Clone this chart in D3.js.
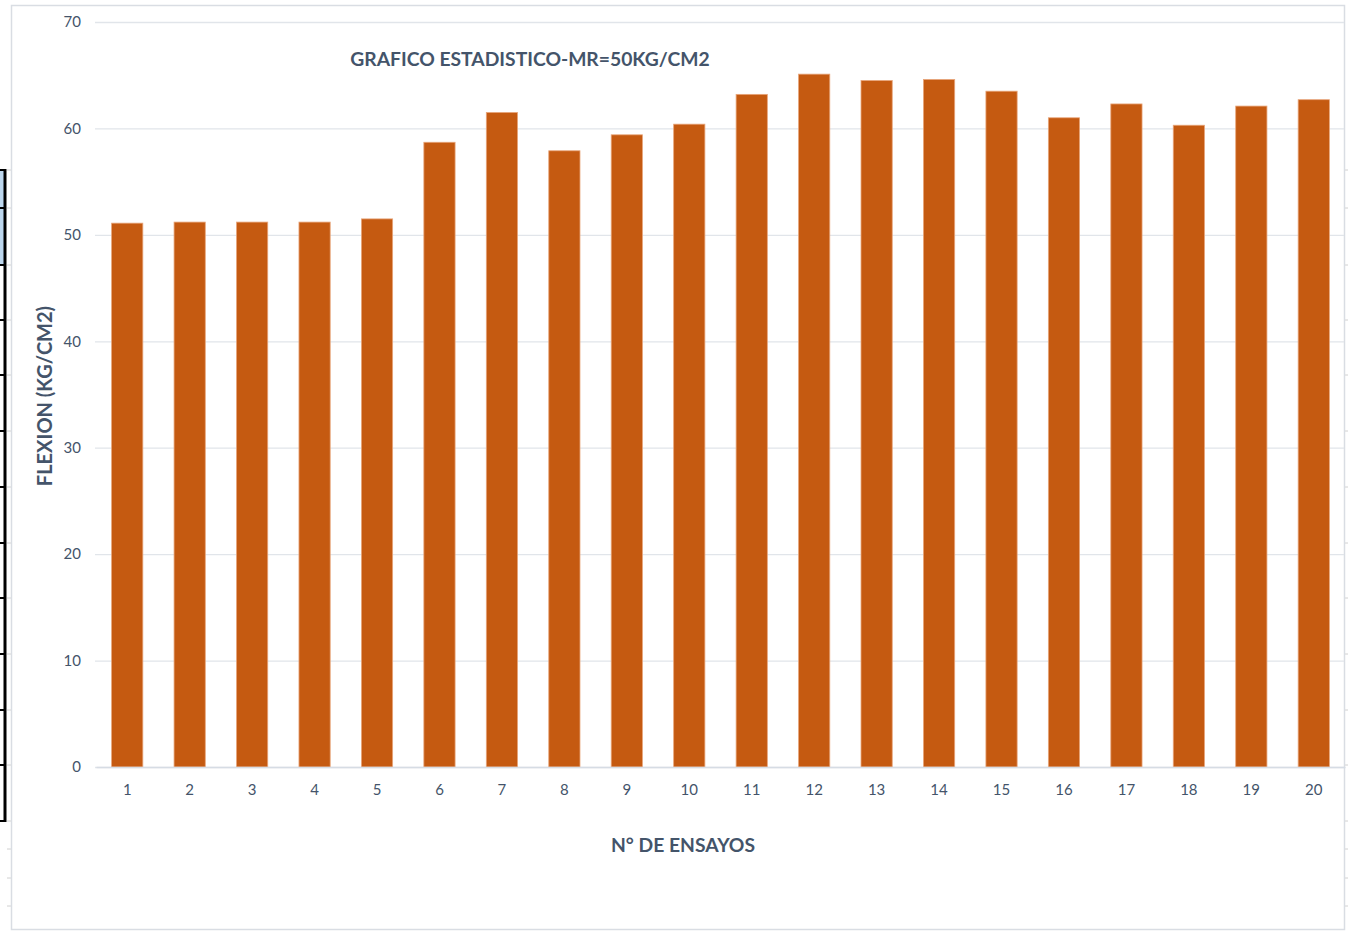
<!DOCTYPE html>
<html>
<head>
<meta charset="utf-8">
<script src="https://cdn.jsdelivr.net/npm/d3@7"></script>
<style>
  body { margin: 0; background: #fff; }
  svg { display: block; }
</style>
</head>
<body>
<svg id="chart" width="1348" height="932"></svg>
<script>
// ------------------- data -------------------
var ensayos = ["1","2","3","4","5","6","7","8","9","10","11","12","13","14","15","16","17","18","19","20"];
var flexion = [51.1, 51.2, 51.2, 51.2, 51.5, 58.7, 61.5, 57.9, 59.4, 60.4,
               63.2, 65.1, 64.5, 64.6, 63.5, 61.0, 62.3, 60.3, 62.1, 62.7];
var yTicks = [0, 10, 20, 30, 40, 50, 60, 70];

const titulo = "GRAFICO ESTADISTICO-MR=50KG/CM2";
const tituloX = "N° DE ENSAYOS";
const tituloY = "FLEXION (KG/CM2)";

const textColor = "#44546A";
const barColor = "#C55A11";
const fontFam = "Lato, 'Open Sans', sans-serif";

var svg = d3.select("#chart");

// ------------------- background spreadsheet bits -------------------
var rows = [170, 208, 265, 320, 375, 431, 487, 543, 598, 654, 710, 765, 821];
svg.append("rect")
  .attr("x", 0).attr("y", 170)
  .attr("width", 5).attr("height", 95)
  .attr("fill", "#BDD7EE");
svg.selectAll(".cellLine")
  .data(rows)
  .enter().append("line")
  .attr("x1", 0).attr("x2", 6)
  .attr("y1", d => d).attr("y2", d => d)
  .attr("stroke", "#000").attr("stroke-width", 2);
svg.append("line")
  .attr("x1", 5).attr("x2", 5).attr("y1", 169).attr("y2", 822)
  .attr("stroke", "#000").attr("stroke-width", 3);
var sideTicks = rows.concat([849, 878, 906]);
svg.selectAll(".sideTickL")
  .data(sideTicks)
  .enter().append("line")
  .attr("x1", 7).attr("x2", 11)
  .attr("y1", d => d).attr("y2", d => d)
  .attr("stroke", "#d0d0d0");
svg.selectAll(".sideTickR")
  .data(sideTicks)
  .enter().append("line")
  .attr("x1", 1345).attr("x2", 1348)
  .attr("y1", d => d).attr("y2", d => d)
  .attr("stroke", "#d0d0d0");

// chart frame
svg.append("rect")
  .attr("x", 11.5).attr("y", 5.5)
  .attr("width", 1333).attr("height", 924)
  .attr("fill", "#fff")
  .attr("stroke", "#D9DDE3")
  .attr("stroke-width", 1.5);

// ------------------- scales -------------------
const plotLeft = 96, plotRight = 1345, plotTop = 22, plotBottom = 767;

var x = d3.scaleBand()
  .domain(ensayos)
  .range([plotLeft, plotRight])
  .paddingInner(0.5)
  .paddingOuter(0.25);

var y = d3.scaleLinear()
  .domain([0, 70])
  .range([plotBottom, plotTop]);

// gridlines
svg.append("g")
  .attr("transform", "translate(" + (plotLeft - 1) + ",0)")
  .call(d3.axisLeft(y).tickValues(yTicks).tickSize(-(plotRight - plotLeft)).tickFormat(""))
  .call(g => g.select(".domain").remove())
  .call(g => g.selectAll(".tick line").attr("stroke", "#E1E5EA").attr("stroke-width", 1.3));

// y labels
svg.append("g")
  .attr("transform", "translate(" + plotLeft + ",0)")
  .call(d3.axisLeft(y).tickValues(yTicks).tickSize(0).tickPadding(15))
  .call(g => g.select(".domain").remove())
  .call(g => g.selectAll("text")
    .attr("fill", textColor)
    .style("font-family", fontFam)
    .style("font-size", "15px"));

// bars
svg.selectAll(".bar")
  .data(flexion)
  .enter().append("rect")
  .attr("class", "bar")
  .attr("x", (d, i) => x(ensayos[i]))
  .attr("y", d => y(d))
  .attr("width", x.bandwidth())
  .attr("height", d => y(0) - y(d))
  .attr("fill", barColor)
  .attr("stroke", "#E8A57A")
  .attr("stroke-width", 0.8);

// x axis
svg.append("g")
  .attr("transform", "translate(0," + plotBottom + ")")
  .call(d3.axisBottom(x).tickSize(0).tickPadding(17))
  .call(g => g.select(".domain").attr("stroke", "#D6DCE4").attr("stroke-width", 1.5))
  .call(g => g.selectAll("text")
    .attr("fill", textColor)
    .style("font-family", fontFam)
    .style("font-size", "15px"));

// titles
svg.append("text")
  .attr("x", 530).attr("y", 66)
  .attr("text-anchor", "middle")
  .attr("fill", textColor)
  .style("font-family", fontFam)
  .style("font-weight", "bold")
  .style("font-size", "19.3px")
  .text(titulo);

svg.append("text")
  .attr("x", 683).attr("y", 852)
  .attr("text-anchor", "middle")
  .attr("fill", textColor)
  .style("font-family", fontFam)
  .style("font-weight", "bold")
  .style("font-size", "19.3px")
  .text(tituloX);

svg.append("text")
  .attr("transform", "translate(52,396) rotate(-90)")
  .attr("text-anchor", "middle")
  .attr("fill", textColor)
  .style("font-family", fontFam)
  .style("font-weight", "bold")
  .style("font-size", "20px")
  .text(tituloY);
</script>
</body>
</html>
